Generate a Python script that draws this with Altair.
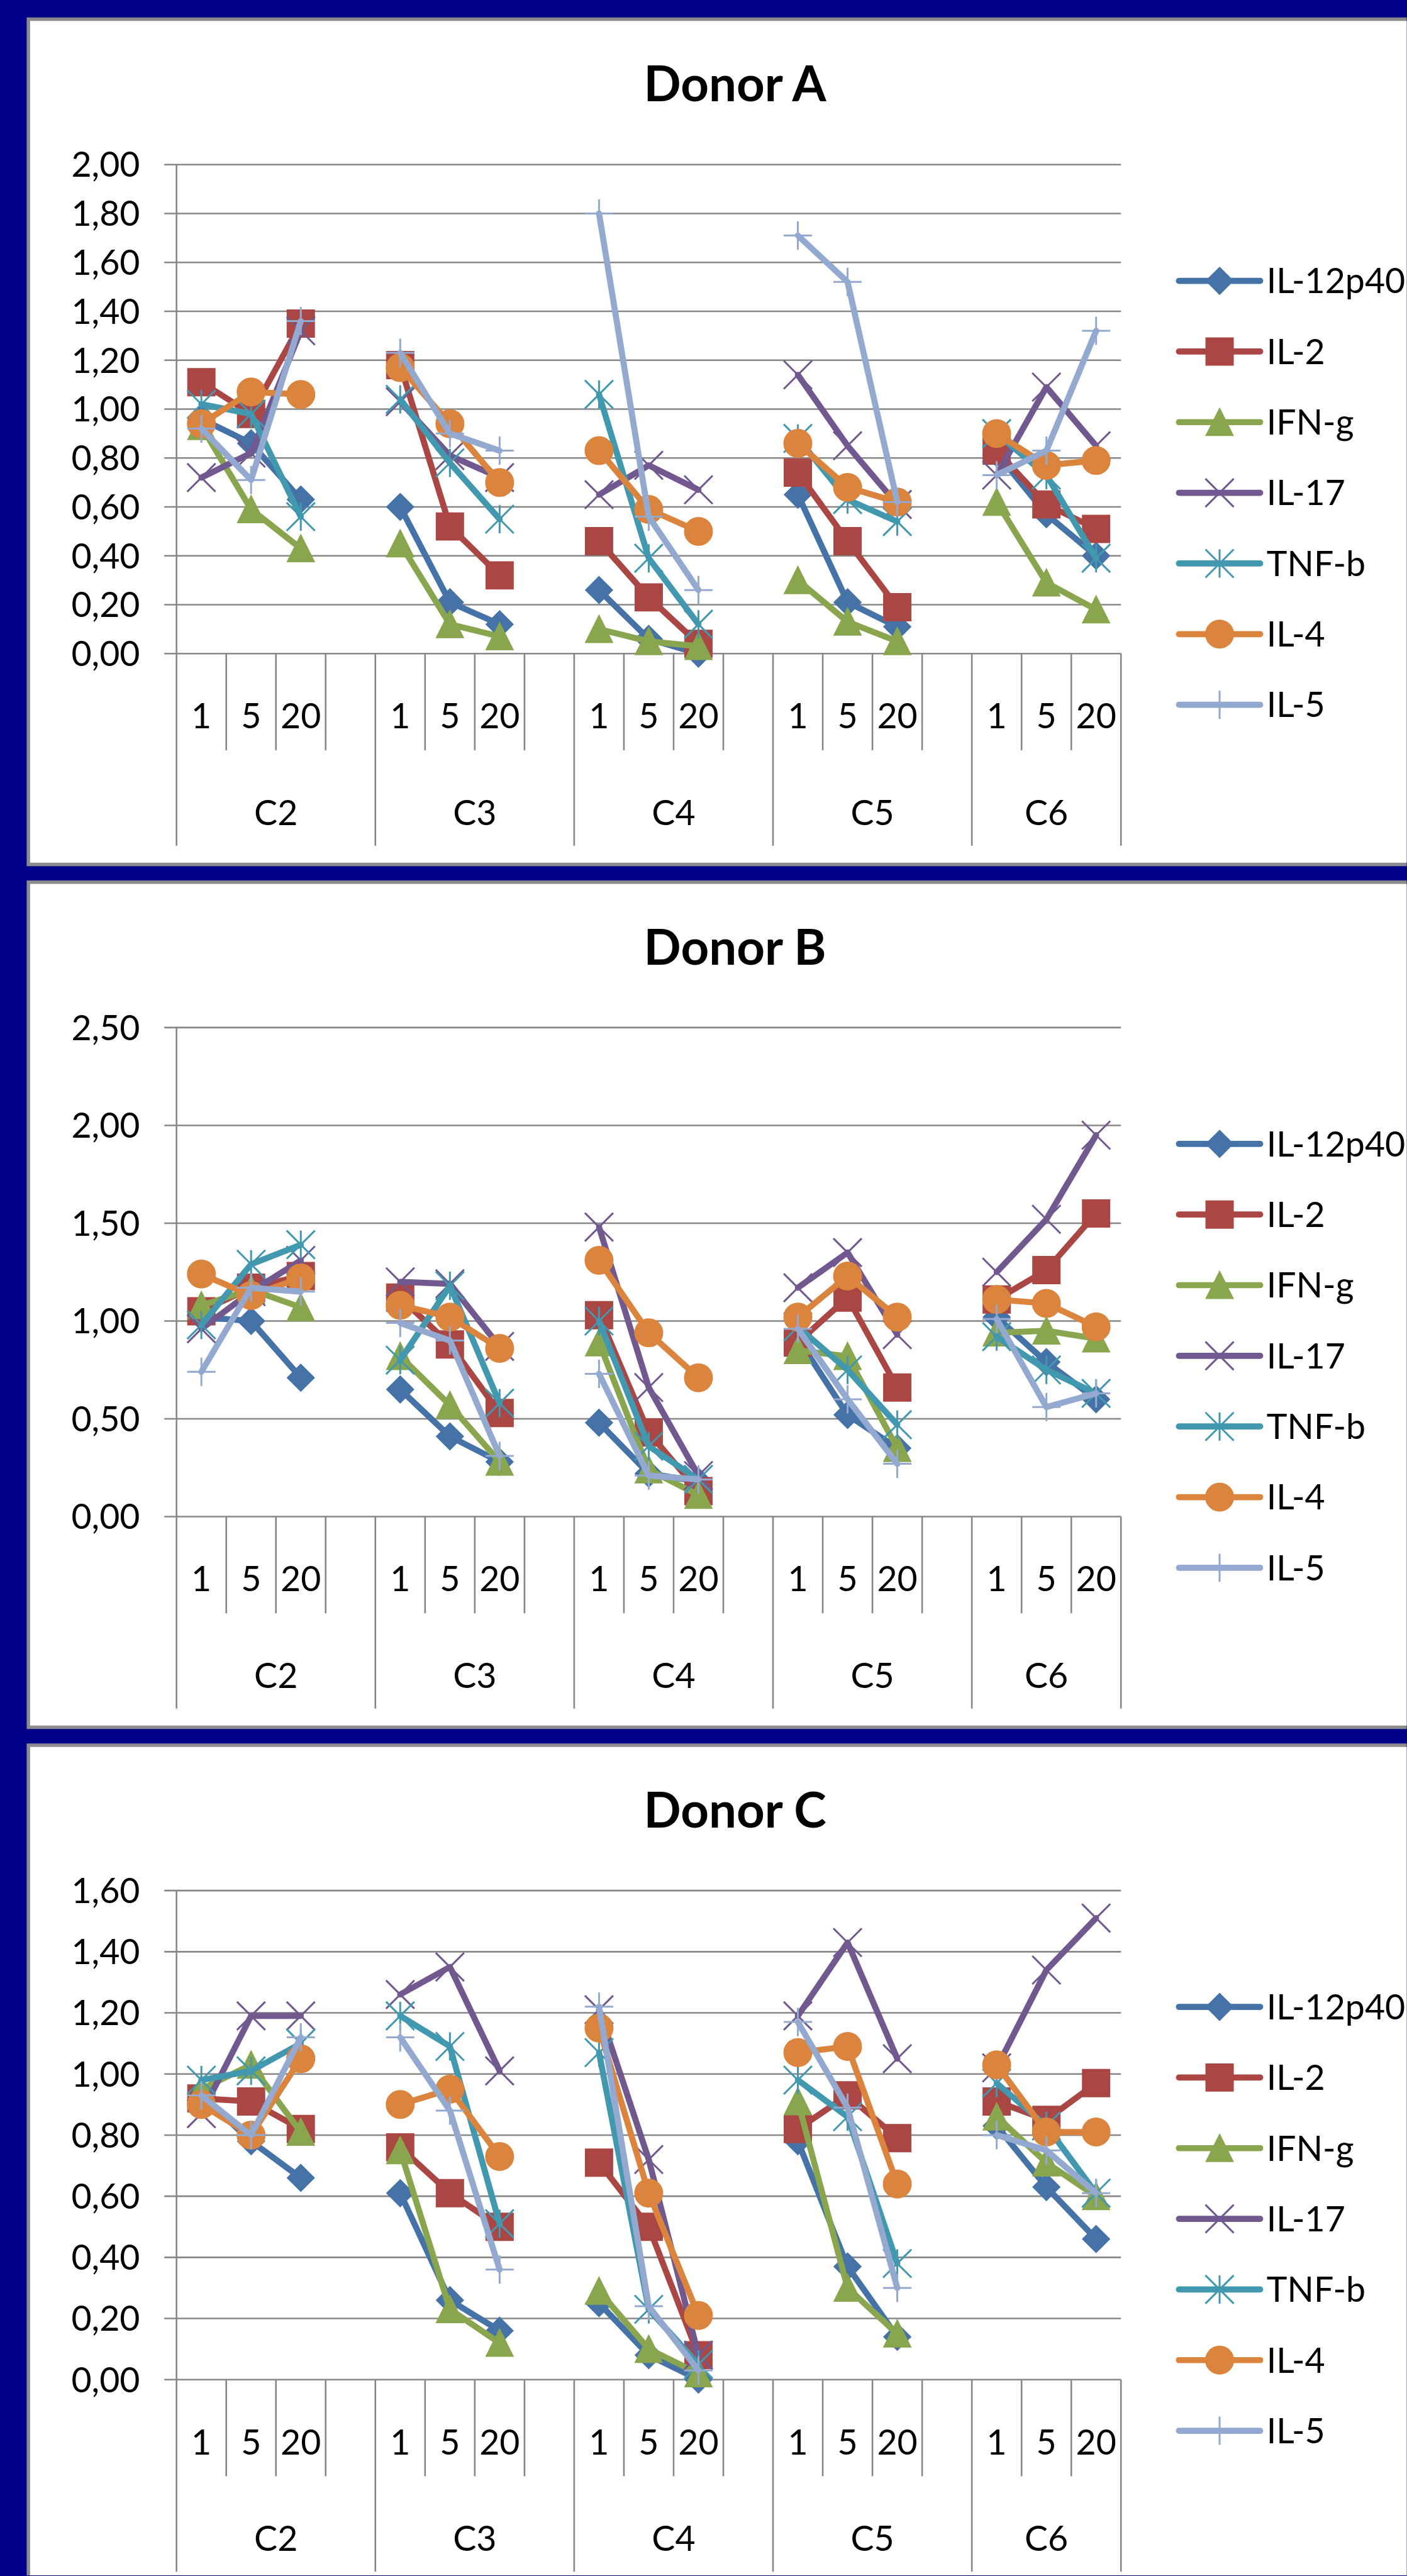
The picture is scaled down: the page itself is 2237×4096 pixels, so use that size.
import altair as alt
import pandas as pd

# ---------------------------------------------------------------------------
# Data: relative cytokine levels per donor, stimulation (C2..C6) and dose
# Each list holds C2(1,5,20), C3(1,5,20), C4(1,5,20), C5(1,5,20), C6(1,5,20)
# ---------------------------------------------------------------------------
cytokines = ["IL-12p40", "IL-2", "IFN-g", "IL-17", "TNF-b", "IL-4", "IL-5"]
groups = ["C2", "C3", "C4", "C5", "C6"]
doses = ["1", "5", "20"]

donor_a = {
    "IL-12p40": [0.96, 0.86, 0.63, 0.60, 0.21, 0.12, 0.26, 0.06, 0.00, 0.65, 0.21, 0.11, 0.82, 0.57, 0.40],
    "IL-2":     [1.11, 0.98, 1.35, 1.18, 0.52, 0.32, 0.46, 0.23, 0.04, 0.74, 0.46, 0.19, 0.83, 0.61, 0.51],
    "IFN-g":    [0.93, 0.59, 0.43, 0.45, 0.12, 0.07, 0.10, 0.05, 0.03, 0.30, 0.13, 0.05, 0.62, 0.29, 0.18],
    "IL-17":    [0.72, 0.82, 1.32, 1.03, 0.81, 0.72, 0.65, 0.77, 0.67, 1.14, 0.85, 0.61, 0.73, 1.09, 0.85],
    "TNF-b":    [1.02, 0.98, 0.56, 1.04, 0.78, 0.55, 1.06, 0.39, 0.12, 0.88, 0.63, 0.54, 0.90, 0.73, 0.39],
    "IL-4":     [0.94, 1.07, 1.06, 1.17, 0.94, 0.70, 0.83, 0.59, 0.50, 0.86, 0.68, 0.62, 0.90, 0.77, 0.79],
    "IL-5":     [0.92, 0.71, 1.36, 1.23, 0.90, 0.83, 1.80, 0.56, 0.26, 1.71, 1.52, 0.62, 0.73, 0.83, 1.32],
}

donor_b = {
    "IL-12p40": [1.02, 1.00, 0.71, 0.65, 0.41, 0.28, 0.48, 0.22, 0.18, 0.91, 0.52, 0.35, 1.02, 0.79, 0.60],
    "IL-2":     [1.05, 1.17, 1.23, 1.12, 0.88, 0.53, 1.03, 0.43, 0.13, 0.89, 1.12, 0.66, 1.11, 1.26, 1.55],
    "IFN-g":    [1.08, 1.16, 1.07, 0.82, 0.57, 0.28, 0.89, 0.24, 0.11, 0.85, 0.82, 0.35, 0.94, 0.95, 0.91],
    "IL-17":    [0.96, 1.15, 1.31, 1.20, 1.19, 0.87, 1.48, 0.66, 0.21, 1.17, 1.35, 0.93, 1.25, 1.52, 1.95],
    "TNF-b":    [0.98, 1.29, 1.39, 0.80, 1.18, 0.58, 1.00, 0.36, 0.19, 0.97, 0.75, 0.47, 0.92, 0.75, 0.63],
    "IL-4":     [1.24, 1.13, 1.22, 1.08, 1.02, 0.86, 1.31, 0.94, 0.71, 1.02, 1.23, 1.02, 1.11, 1.09, 0.97],
    "IL-5":     [0.74, 1.17, 1.15, 0.99, 0.90, 0.31, 0.73, 0.21, 0.19, 0.96, 0.60, 0.27, 1.01, 0.56, 0.63],
}

donor_c = {
    "IL-12p40": [0.93, 0.78, 0.66, 0.61, 0.26, 0.16, 0.25, 0.08, 0.00, 0.78, 0.37, 0.14, 0.83, 0.63, 0.46],
    "IL-2":     [0.92, 0.91, 0.82, 0.76, 0.61, 0.50, 0.71, 0.50, 0.08, 0.82, 0.93, 0.79, 0.91, 0.85, 0.97],
    "IFN-g":    [0.95, 1.03, 0.81, 0.75, 0.23, 0.12, 0.29, 0.10, 0.02, 0.91, 0.30, 0.15, 0.86, 0.71, 0.60],
    "IL-17":    [0.87, 1.19, 1.19, 1.26, 1.35, 1.01, 1.21, 0.72, 0.08, 1.19, 1.43, 1.05, 1.02, 1.34, 1.51],
    "TNF-b":    [0.98, 1.01, 1.10, 1.19, 1.09, 0.51, 1.07, 0.23, 0.05, 0.98, 0.86, 0.38, 0.97, 0.83, 0.61],
    "IL-4":     [0.90, 0.80, 1.05, 0.90, 0.95, 0.73, 1.15, 0.61, 0.21, 1.07, 1.09, 0.64, 1.03, 0.81, 0.81],
    "IL-5":     [0.93, 0.80, 1.12, 1.12, 0.88, 0.36, 1.22, 0.24, 0.03, 1.17, 0.89, 0.30, 0.80, 0.75, 0.61],
}

ticks_a = [0.0, 0.2, 0.4, 0.6, 0.8, 1.0, 1.2, 1.4, 1.6, 1.8, 2.0]
ticks_b = [0.0, 0.5, 1.0, 1.5, 2.0, 2.5]
ticks_c = [0.0, 0.2, 0.4, 0.6, 0.8, 1.0, 1.2, 1.4, 1.6]

# ---------------------------------------------------------------------------
# Styling
# ---------------------------------------------------------------------------
colors = ["#4572A7", "#AA4643", "#89A54E", "#71588F", "#4198AF", "#DB843D", "#93A9CF"]
markers = [
    ("M0,-1L1,0L0,1L-1,0Z", 1681),            # diamond
    ("M-1,-1L1,-1L1,1L-1,1Z", 1764),          # square
    ("M0,-1L1,1L-1,1Z", 1681),                # triangle
    ("M-1,-1L1,1M-1,1L1,-1", 2025),           # x
    ("M-1,-1L1,1M-1,1L1,-1M0,-1L0,1", 2025),  # star
    ("circle", 1849),                         # circle
    ("M-1,0L1,0M0,-1L0,1", 2025),             # plus
]

FONT = "Lato"
NAVY = "#000088"
GRAY = "#878787"
BORDER_GRAY = "#8C8C8C"

W = 1502.3          # plot width
H = 778.0           # plot height
SLOTS = 19          # 4 slots per stimulation group, last group has 3
LABEL_SIZE = 55.5
LINE_W = 9.7
GRID_W = 2.6

PANEL_LEFT = -238.4
PANEL_TOP = -234.0
PANEL_RIGHT = 1956.8
PANEL_H = 1350.0
BORDER = 5.5

LEGEND_Y0 = 185.0
LEGEND_STEP = 112.4

# x-axis decorations
dose_rows = []
for gi, g in enumerate(groups):
    for di, d in enumerate(doses):
        dose_rows.append({"pos": gi * 4 + di + 0.5, "label": d})
dose_df = pd.DataFrame(dose_rows)

group_df = pd.DataFrame({
    "pos": [gi * 4 + (1.5 if gi == len(groups) - 1 else 2.0) for gi in range(len(groups))],
    "label": groups,
})
subtick_df = pd.DataFrame({"b": [1, 2, 3, 5, 6, 7, 9, 10, 11, 13, 14, 15, 17, 18]})
divider_df = pd.DataFrame({"b": [4, 8, 12, 16, 19]})
one = pd.DataFrame({"k": [0]})


def long_table(values):
    rows = []
    for s in cytokines:
        v = values[s]
        for gi, g in enumerate(groups):
            for di, d in enumerate(doses):
                rows.append({"series": s, "group": g, "dose": d,
                             "pos": gi * 4 + di + 0.5, "value": v[gi * 3 + di]})
    return pd.DataFrame(rows)


def panel(title, values, ticks, bottom=None):
    xs = alt.Scale(domain=[0, SLOTS], nice=False, zero=False)
    ys = alt.Scale(domain=[0, ticks[-1]], nice=False, zero=True)
    X = lambda f: alt.X(f, scale=xs, axis=None)
    Y = lambda f: alt.Y(f, scale=ys, axis=None)

    y_bottom = PANEL_TOP + PANEL_H if bottom is None else bottom
    inner_bottom = y_bottom - BORDER if bottom is None else bottom

    frame = alt.Chart(one).mark_rect(color=BORDER_GRAY).encode(
        x=alt.value(PANEL_LEFT), x2=alt.value(PANEL_RIGHT),
        y=alt.value(PANEL_TOP), y2=alt.value(y_bottom))
    sheet = alt.Chart(one).mark_rect(color="white").encode(
        x=alt.value(PANEL_LEFT + BORDER), x2=alt.value(PANEL_RIGHT),
        y=alt.value(PANEL_TOP + BORDER), y2=alt.value(inner_bottom))

    tick_df = pd.DataFrame({"v": ticks,
                            "label": [f"{t:.2f}".replace(".", ",") for t in ticks]})
    grid = alt.Chart(tick_df).mark_rule(color=GRAY, strokeWidth=GRID_W).encode(
        y=Y("v:Q"), x=alt.value(-19.5), x2=alt.value(W))
    ylabels = alt.Chart(tick_df).mark_text(
        align="right", baseline="alphabetic", dy=19.8, font=FONT,
        fontSize=LABEL_SIZE, color="black").encode(
        y=Y("v:Q"), x=alt.value(-58.2), text="label:N")

    y_axis_line = alt.Chart(one).mark_rule(color=GRAY, strokeWidth=GRID_W).encode(
        x=alt.value(0), y=alt.value(0), y2=alt.value(H + 305.5))
    dividers = alt.Chart(divider_df).mark_rule(color=GRAY, strokeWidth=GRID_W).encode(
        x=X("b:Q"), y=alt.value(H), y2=alt.value(H + 305.5))
    subticks = alt.Chart(subtick_df).mark_rule(color=GRAY, strokeWidth=GRID_W).encode(
        x=X("b:Q"), y=alt.value(H), y2=alt.value(H + 153.7))
    dose_text = alt.Chart(dose_df).mark_text(
        align="center", baseline="alphabetic", font=FONT, fontSize=LABEL_SIZE,
        color="black").encode(x=X("pos:Q"), y=alt.value(H + 119.0), text="label:N")
    group_text = alt.Chart(group_df).mark_text(
        align="center", baseline="alphabetic", font=FONT, fontSize=LABEL_SIZE,
        color="black").encode(x=X("pos:Q"), y=alt.value(H + 272.8), text="label:N")

    title_text = alt.Chart(pd.DataFrame({"t": [title]})).mark_text(
        align="center", baseline="alphabetic", font=FONT, fontSize=78,
        fontWeight="bold", color="black").encode(
        x=alt.value(888.4), y=alt.value(-100.3), text="t:N")

    layers = [frame, sheet, grid, y_axis_line, dividers, subticks,
              ylabels, dose_text, group_text, title_text]

    data = long_table(values)
    for k, s in enumerate(cytokines):
        c = colors[k]
        shape, size = markers[k]
        d = data[data["series"] == s]
        line = alt.Chart(d).mark_line(
            color=c, strokeWidth=LINE_W, strokeCap="round", strokeJoin="round").encode(
            x=X("pos:Q"), y=Y("value:Q"), detail="group:N", order="pos:Q")
        pts = alt.Chart(d).mark_point(
            shape=shape, size=size, filled=True, fill=c, stroke=c,
            strokeWidth=3, opacity=1).encode(x=X("pos:Q"), y=Y("value:Q"))

        ly = LEGEND_Y0 + k * LEGEND_STEP
        key = pd.DataFrame({"name": [s]})
        leg_line = alt.Chart(key).mark_rule(
            color=c, strokeWidth=LINE_W, strokeCap="round").encode(
            x=alt.value(1594.5), x2=alt.value(1723.8), y=alt.value(ly))
        leg_pt = alt.Chart(key).mark_point(
            shape=shape, size=size, filled=True, fill=c, stroke=c,
            strokeWidth=3, opacity=1).encode(x=alt.value(1659.2), y=alt.value(ly))
        leg_txt = alt.Chart(key).mark_text(
            align="left", baseline="alphabetic", font=FONT, fontSize=LABEL_SIZE,
            color="black").encode(x=alt.value(1734.0), y=alt.value(ly + 19.8),
                                  text="name:N")
        layers += [line, pts, leg_line, leg_pt, leg_txt]

    return alt.layer(*layers).properties(width=W, height=H)


pa = panel("Donor A", donor_a, ticks_a)
pb = panel("Donor B", donor_b, ticks_b)
pc = panel("Donor C", donor_c, ticks_c, bottom=4096 - 3006.6)

chart = alt.vconcat(pa, pb, pc, spacing=1372.9 - H, bounds="flush").properties(
    padding={"left": 41.8, "top": 260.8 + PANEL_TOP, "right": 0, "bottom": 0},
    background=NAVY,
).configure_view(strokeWidth=0)

chart.save("out.html", embed_options={"renderer": "svg", "actions": False})
